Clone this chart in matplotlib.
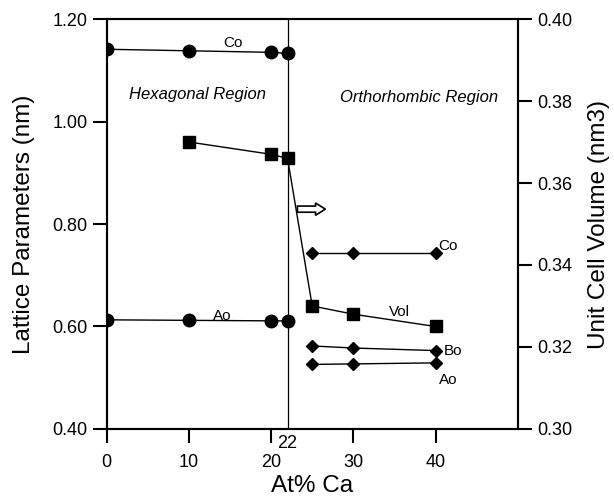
import matplotlib.pyplot as plt
from matplotlib.patches import FancyArrow

plt.rcParams['font.family'] = ['Liberation Sans', 'DejaVu Sans']

# hexagonal phase lattice parameters (nm)
x_hex = [0, 10, 20, 22]
co_hex = [1.141, 1.138, 1.135, 1.133]
ao_hex = [0.613, 0.612, 0.611, 0.611]

# orthorhombic phase lattice parameters (nm)
x_orth = [25, 30, 40]
co_orth = [0.743, 0.743, 0.743]
bo_orth = [0.562, 0.558, 0.553]
ao_orth = [0.526, 0.527, 0.529]

# unit cell volume (nm3), right axis
x_vol = [10, 20, 22, 25, 30, 40]
vol = [0.370, 0.367, 0.366, 0.330, 0.328, 0.325]

left_ticks = [0.40, 0.60, 0.80, 1.00, 1.20]
right_ticks = [0.30, 0.32, 0.34, 0.36, 0.38, 0.40]
x_ticks = [0, 10, 20, 30, 40]

fig = plt.figure(figsize=(6.14, 4.98), dpi=100)
ax = fig.add_axes([0.1738, 0.1386, 0.6694, 0.8232])
ax2 = ax.twinx()

ax.plot(x_hex, co_hex, 'k-o', lw=1.0, ms=9)
ax.plot(x_hex, ao_hex, 'k-o', lw=1.0, ms=9)
ax.plot(x_orth, co_orth, 'k-D', lw=1.0, ms=6.5)
ax.plot(x_orth, bo_orth, 'k-D', lw=1.0, ms=6.5)
ax.plot(x_orth, ao_orth, 'k-D', lw=1.0, ms=6.5)
ax2.plot(x_vol, vol, 'k-s', lw=1.0, ms=9)

ax.axvline(22, color='k', lw=0.9)

ax.set_xlim(0, 50)
ax.set_ylim(0.40, 1.20)
ax2.set_ylim(0.30, 0.40)

ax.set_xticks(x_ticks)
ax.set_xticks([22], minor=True)
ax.set_xticklabels(['22'], minor=True)
ax.set_yticks(left_ticks)
ax.set_yticklabels([f'{v:.2f}' for v in left_ticks])
ax2.set_yticks(right_ticks)
ax2.set_yticklabels([f'{v:.2f}' for v in right_ticks])

ax.tick_params(axis='both', which='major', direction='out', length=10, width=1.5,
               labelsize=13, pad=4)
ax.tick_params(axis='x', which='major', pad=8)
ax.tick_params(axis='x', which='minor', length=0, labelsize=13, pad=4)
ax2.tick_params(axis='y', direction='out', length=10, width=1.5, labelsize=13, pad=4)

for a in (ax, ax2):
    for s in a.spines.values():
        s.set_linewidth(1.5)

ax.set_xlabel('At% Ca', fontsize=17.5, labelpad=3)
ax.set_ylabel('Lattice Parameters (nm)', fontsize=17.5, labelpad=12)
ax2.set_ylabel('Unit Cell Volume (nm3)', fontsize=17.5, labelpad=11)

# series labels
ax.text(15.4, 1.153, 'Co', fontsize=11, ha='center', va='center')
ax.text(14.0, 0.620, 'Ao', fontsize=11, ha='center', va='center')
ax.text(40.3, 0.757, 'Co', fontsize=11, ha='left', va='center')
ax.text(35.6, 0.629, 'Vol', fontsize=11, ha='center', va='center')
ax.text(41.0, 0.553, 'Bo', fontsize=11, ha='left', va='center')
ax.text(41.5, 0.496, 'Ao', fontsize=11, ha='center', va='center')

ax.text(11.0, 1.052, 'Hexagonal Region', fontsize=12, style='italic',
        ha='center', va='center')
ax.text(38.0, 1.046, 'Orthorhombic Region', fontsize=12, style='italic',
        ha='center', va='center')

ax.add_patch(FancyArrow(23.2, 0.829, 3.4, 0, width=0.012, head_width=0.024,
                        head_length=1.2, length_includes_head=True,
                        facecolor='white', edgecolor='black', lw=1.2))

fig.savefig('out.png', dpi=100)
